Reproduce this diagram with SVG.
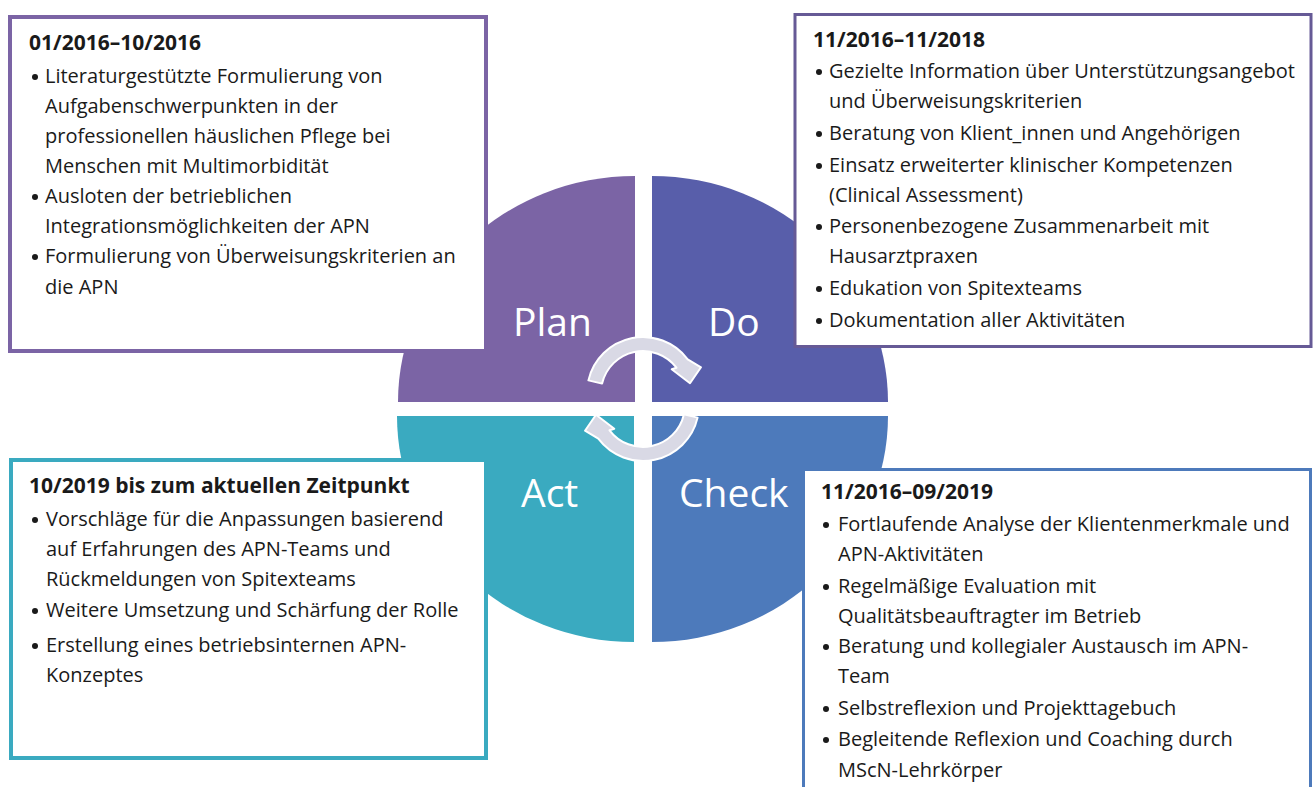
<svg xmlns="http://www.w3.org/2000/svg" width="1314" height="787" viewBox="0 0 1314 787">
<style>
  .t { font-family: "Open Sans", "Liberation Sans", sans-serif; font-size: 20px; fill: #1a1a1a; }
  .h { font-family: "Open Sans", "Liberation Sans", sans-serif; font-size: 21px; font-weight: bold; fill: #1a1a1a; }
  .lbl { font-family: "Open Sans", "Liberation Sans", sans-serif; font-size: 39px; fill: #ffffff; }
  .box { fill: #ffffff; }
  .dot { fill: #1a1a1a; }
  .arr { fill: #d9d9e5; stroke: #ffffff; stroke-width: 2; stroke-linejoin: round; }
</style>
<rect width="1314" height="787" fill="#ffffff"/>

<g id="quadrant-plan">
  <path d="M635,402 L398,402 A237,226 0 0 1 635,176 Z" fill="#7b64a5"/>
</g>
<g id="quadrant-do">
  <path d="M652,402 L652,176 A236,226 0 0 1 888,402 Z" fill="#585eaa"/>
</g>
<g id="quadrant-act">
  <path d="M634,416 L634,642 A237,226 0 0 1 397,416 Z" fill="#3aaac0"/>
</g>
<g id="quadrant-check">
  <path d="M652,416 L888,416 A236,226 0 0 1 652,642 Z" fill="#4d7abb"/>
</g>

<g id="connectors">
  <path class="arr" d="M588.4,380.4 A56,56 0 0 1 687.7,359.3 L701,367.3 L690,383.3 L671.7,369.3 L676.5,367.7 A42,42 0 0 0 602.1,383.6 Z"/>
  <path class="arr" d="M697.6,417.6 A56,56 0 0 1 598.3,438.7 L585,430.7 L596,414.7 L614.3,428.7 L609.5,430.3 A42,42 0 0 0 683.9,414.4 Z"/>
</g>

<g id="labels">
  <text class="lbl" x="513" y="336">Plan</text>
  <text class="lbl" x="708" y="336">Do</text>
  <text class="lbl" x="521" y="507">Act</text>
  <text class="lbl" x="679" y="507">Check</text>
</g>

<g id="box-plan">
  <rect class="box" x="10" y="17" width="476" height="334" stroke="#7b64a5" stroke-width="4"/>
  <text class="h" x="29" y="50">01/2016–10/2016</text>
  <circle class="dot" cx="35" cy="77" r="3"/>
  <text class="t" x="45" y="83">Literaturgestützte Formulierung von</text>
  <text class="t" x="45" y="113">Aufgabenschwerpunkten in der</text>
  <text class="t" x="45" y="143">professionellen häuslichen Pflege bei</text>
  <text class="t" x="45" y="173">Menschen mit Multimorbidität</text>
  <circle class="dot" cx="35" cy="197" r="3"/>
  <text class="t" x="45" y="203">Ausloten der betrieblichen</text>
  <text class="t" x="45" y="233">Integrationsmöglichkeiten der APN</text>
  <circle class="dot" cx="35" cy="257" r="3"/>
  <text class="t" x="45" y="263">Formulierung von Überweisungskriterien an</text>
  <text class="t" x="45" y="294">die APN</text>
</g>

<g id="box-do">
  <rect class="box" x="795" y="14.5" width="516" height="332" stroke="#665a96" stroke-width="3"/>
  <text class="h" x="813" y="47">11/2016–11/2018</text>
  <circle class="dot" cx="819" cy="72" r="3"/>
  <text class="t" x="829" y="78">Gezielte Information über Unterstützungsangebot</text>
  <text class="t" x="829" y="108">und Überweisungskriterien</text>
  <circle class="dot" cx="819" cy="134" r="3"/>
  <text class="t" x="829" y="140">Beratung von Klient_innen und Angehörigen</text>
  <circle class="dot" cx="819" cy="166" r="3"/>
  <text class="t" x="829" y="172">Einsatz erweiterter klinischer Kompetenzen</text>
  <text class="t" x="829" y="202">(Clinical Assessment)</text>
  <circle class="dot" cx="819" cy="227" r="3"/>
  <text class="t" x="829" y="233">Personenbezogene Zusammenarbeit mit</text>
  <text class="t" x="829" y="263">Hausarztpraxen</text>
  <circle class="dot" cx="819" cy="289" r="3"/>
  <text class="t" x="829" y="295">Edukation von Spitexteams</text>
  <circle class="dot" cx="819" cy="321" r="3"/>
  <text class="t" x="829" y="327">Dokumentation aller Aktivitäten</text>
</g>

<g id="box-act">
  <rect class="box" x="11" y="460" width="475" height="298" stroke="#3aaac0" stroke-width="4"/>
  <text class="h" x="29" y="493">10/2019 bis zum aktuellen Zeitpunkt</text>
  <circle class="dot" cx="35" cy="520" r="3"/>
  <text class="t" x="46" y="526">Vorschläge für die Anpassungen basierend</text>
  <text class="t" x="46" y="556">auf Erfahrungen des APN-Teams und</text>
  <text class="t" x="46" y="586">Rückmeldungen von Spitexteams</text>
  <circle class="dot" cx="35" cy="611" r="3"/>
  <text class="t" x="46" y="617">Weitere Umsetzung und Schärfung der Rolle</text>
  <circle class="dot" cx="35" cy="646" r="3"/>
  <text class="t" x="46" y="652">Erstellung eines betriebsinternen APN-</text>
  <text class="t" x="46" y="682">Konzeptes</text>
</g>

<g id="box-check">
  <rect class="box" x="803.5" y="469.5" width="507" height="330" stroke="#4d7abb" stroke-width="3"/>
  <text class="h" x="821" y="499">11/2016–09/2019</text>
  <circle class="dot" cx="826" cy="525" r="3"/>
  <text class="t" x="838" y="531">Fortlaufende Analyse der Klientenmerkmale und</text>
  <text class="t" x="838" y="561">APN-Aktivitäten</text>
  <circle class="dot" cx="826" cy="587" r="3"/>
  <text class="t" x="838" y="593">Regelmäßige Evaluation mit</text>
  <text class="t" x="838" y="623">Qualitätsbeauftragter im Betrieb</text>
  <circle class="dot" cx="826" cy="647" r="3"/>
  <text class="t" x="838" y="653">Beratung und kollegialer Austausch im APN-</text>
  <text class="t" x="838" y="683">Team</text>
  <circle class="dot" cx="826" cy="709" r="3"/>
  <text class="t" x="838" y="715">Selbstreflexion und Projekttagebuch</text>
  <circle class="dot" cx="826" cy="740" r="3"/>
  <text class="t" x="838" y="746">Begleitende Reflexion und Coaching durch</text>
  <text class="t" x="838" y="777">MScN-Lehrkörper</text>
</g>
</svg>
